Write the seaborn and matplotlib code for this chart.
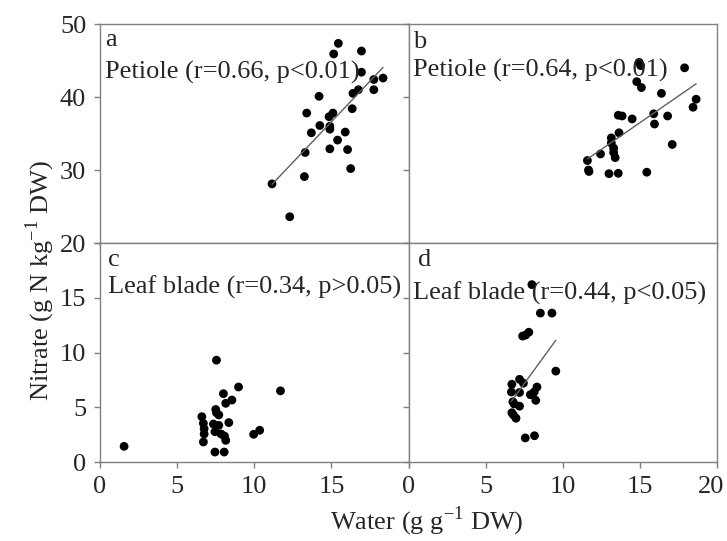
"""
Nitrate vs water content, petiole and leaf blade (2x2 panels)
"""
import numpy as np
import pandas as pd
import matplotlib
matplotlib.use("Agg")
import matplotlib.pyplot as plt
import matplotlib.transforms as mtransforms
import seaborn as sns

sns.set_style("ticks")
plt.rcParams['font.family'] = ['Liberation Serif', 'DejaVu Serif']
plt.rcParams['mathtext.fontset'] = 'custom'
plt.rcParams['mathtext.rm'] = 'Liberation Serif'

# panel a: petiole
water_a = [11.15, 12.3, 13.25, 13.3, 13.4, 13.7, 14.2, 14.25, 14.85, 15.1, 14.9, 14.9, 14.9,
           15.15, 15.45, 15.4, 15.9, 16.05, 16.25, 16.35, 16.4, 16.75, 16.95, 16.95, 17.75,
           17.75, 18.35]
nitrate_a = [28.1, 23.6, 29.1, 32.4, 37.8, 35.1, 40.1, 36.1, 37.3, 37.8, 36.0, 35.6, 32.9,
             45.9, 47.35, 34.1, 35.2, 32.8, 30.2, 38.4, 40.5, 41.0, 43.4, 46.3, 41.0,
             42.4, 42.6]

# panel b: petiole
water_b = [11.6, 11.67, 11.7, 12.45, 13.0, 13.6, 13.15, 13.15, 13.3, 13.3, 13.4, 13.65, 13.6,
           13.85, 14.5, 14.8, 15.1, 14.95, 15.05, 15.45, 15.9, 15.95, 16.4, 16.8, 17.1,
           17.9, 18.45, 18.65]
nitrate_b = [31.3, 30.0, 29.8, 32.2, 29.5, 29.55, 34.4, 33.7, 33.0, 32.4, 31.7, 35.1, 37.5,
             37.4, 37.0, 42.1, 41.3, 44.75, 44.3, 29.7, 37.7, 36.3, 40.5, 37.4, 33.5,
             44.0, 38.6, 39.7]

# panel c: leaf blade (no fit line)
water_c = [1.56, 6.6, 6.7, 6.75, 6.75, 6.7, 7.45, 8.05, 7.55, 7.5, 7.55, 7.7, 7.35, 7.7, 7.45,
           7.85, 8.07, 8.15, 8.0, 8.15, 8.55, 8.35, 8.98, 9.96, 10.35, 11.7]
nitrate_c = [1.43, 4.14, 3.53, 3.04, 2.56, 1.83, 0.91, 0.91, 9.3, 4.8, 4.5, 4.3, 3.47, 3.35, 2.77,
             2.56, 2.37, 1.98, 6.24, 5.36, 5.66, 3.6, 6.85, 2.53, 2.9, 6.5]

# panel d: leaf blade
water_d = [8.0, 8.55, 9.3, 7.4, 7.8, 7.6, 9.55, 6.7, 7.2, 7.45, 6.67, 7.2, 6.77, 6.85, 7.2,
           6.7, 6.8, 6.97, 7.9, 8.05, 8.33, 8.15, 8.25, 7.57, 8.17]
nitrate_d = [16.2, 13.6, 13.6, 11.5, 11.85, 11.6, 8.3, 7.1, 7.55, 7.2, 6.4, 6.35, 5.5, 5.3, 5.1,
             4.5, 4.3, 4.0, 6.15, 6.2, 6.85, 6.4, 5.63, 2.2, 2.4]

letters = ['a', 'b', 'c', 'd']
captions = ['Petiole (r=0.66, p<0.01)', 'Petiole (r=0.64, p<0.01)',
            'Leaf blade (r=0.34, p>0.05)', 'Leaf blade (r=0.44, p<0.05)']

FS = 19
frame_col = '#808080'

fig, axes = plt.subplots(2, 2, figsize=(7.27, 5.41), dpi=100)
fig.subplots_adjust(left=0.1376, right=0.9862, top=0.9556, bottom=0.146,
                    hspace=0, wspace=0)

panels = [(water_a, nitrate_a, True), (water_b, nitrate_b, True),
          (water_c, nitrate_c, False), (water_d, nitrate_d, True)]

scatter_kws = dict(s=40, color='black', edgecolor='none', alpha=1)
line_kws = dict(color='#606060', lw=1.0)

for ax, (wx, ny, fit) in zip(axes.flat, panels):
    df = pd.DataFrame({'water': wx, 'nitrate': ny})
    if fit:
        sns.regplot(data=df, x='water', y='nitrate', ax=ax, ci=None,
                    scatter_kws=scatter_kws, line_kws=line_kws)
    else:
        sns.scatterplot(data=df, x='water', y='nitrate', ax=ax, s=40,
                        color='black', edgecolor='none')
    ax.set_xlabel('')
    ax.set_ylabel('')
    ax.set_xlim(0, 20)
    for sp in ax.spines.values():
        sp.set_visible(True)
        sp.set_color(frame_col)
        sp.set_linewidth(1.0)
    ax.tick_params(direction='out', length=4, width=1, color=frame_col,
                   labelsize=FS, pad=6)
    ax.set_xticks([0, 5, 10, 15, 20])

# y ranges
for ax in axes[0]:
    ax.set_ylim(20, 50)
    ax.set_yticks([20, 30, 40, 50])
for ax in axes[1]:
    ax.set_ylim(0, 20)
    ax.set_yticks([0, 5, 10, 15, 20])

# hide inner tick labels
for ax in axes[0]:
    ax.tick_params(labelbottom=False)
for ax in axes[:, 1]:
    ax.tick_params(labelleft=False)
axes[0, 0].set_yticklabels(['', '30', '40', '50'])
axes[1, 0].set_xticklabels(['0', '5', '10', '15', ''])

# keep the last "20" inside the figure edge
last = axes[1, 1].get_xticklabels()[-1]
last.set_transform(last.get_transform() +
                   mtransforms.ScaledTranslation(-6 / 100, 0, fig.dpi_scale_trans))

# panel letters and captions
letter_pos = [(0.016, 0.927), (0.016, 0.918), (0.026, 0.922), (0.03, 0.922)]
caption_pos = [(0.016, 0.78), (0.016, 0.79), (0.026, 0.80), (0.016, 0.772)]
for ax, lt, cap, lp, cp in zip(axes.flat, letters, captions, letter_pos, caption_pos):
    ax.text(lp[0], lp[1], lt, transform=ax.transAxes, fontsize=FS,
            ha='left', va='center')
    ax.text(cp[0], cp[1], cap, transform=ax.transAxes, fontsize=FS,
            ha='left', va='center')

fig.text(427 / 727, 1 - 521 / 541, r'Water (g g$^{\mathregular{-1}}$ DW)',
         fontsize=FS, ha='center', va='center')
fig.text(40 / 727, 1 - 280 / 541, r'Nitrate (g N kg$^{\mathregular{-1}}$ DW)',
         fontsize=FS, ha='center', va='center', rotation=90)

fig.savefig('out.png', dpi=100)
